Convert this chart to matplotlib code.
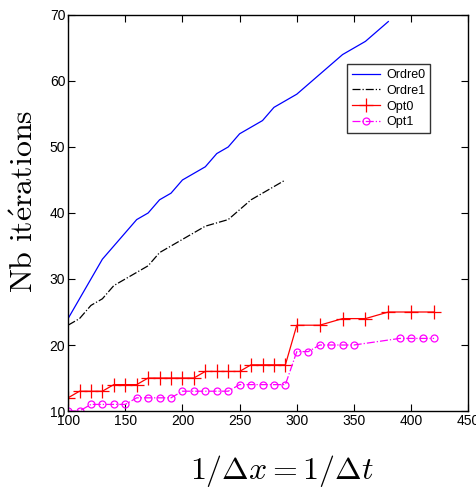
import matplotlib
matplotlib.use('Agg')
import matplotlib.pyplot as plt

#-------------------------------------------- Data --------------------------------------------#

x_ordre0 = [100, 110, 120, 130, 140, 150, 160, 170, 180, 190, 200, 210, 220, 230, 240, 250,
            260, 270, 280, 290, 300, 320, 340, 360, 380]
y_ordre0 = [24, 27, 30, 33, 35, 37, 39, 40, 42, 43, 45, 46, 47, 49, 50, 52,
            53, 54, 56, 57, 58, 61, 64, 66, 69]

x_ordre1 = [100, 110, 120, 130, 140, 150, 160, 170, 180, 190, 200, 210, 220, 230, 240, 250,
            260, 270, 280, 290]
y_ordre1 = [23, 24, 26, 27, 29, 30, 31, 32, 34, 35, 36, 37, 38, 38.5, 39, 40.5,
            42, 43, 44, 45]

x_opt0 = [100, 110, 120, 130, 140, 150, 160, 170, 180, 190, 200, 210, 220, 230, 240, 250,
          260, 270, 280, 290, 300, 320, 340, 360, 380, 400, 420]
y_opt0 = [12, 13, 13, 13, 14, 14, 14, 15, 15, 15, 15, 15, 16, 16, 16, 16,
          17, 17, 17, 17, 23, 23, 24, 24, 25, 25, 25]

x_opt1 = [100, 110, 120, 130, 140, 150, 160, 170, 180, 190, 200, 210, 220, 230, 240, 250,
          260, 270, 280, 290, 300, 310, 320, 330, 340, 350, 390, 400, 410, 420]
y_opt1 = [10, 10, 11, 11, 11, 11, 12, 12, 12, 12, 13, 13, 13, 13, 13, 14,
          14, 14, 14, 14, 19, 19, 20, 20, 20, 20, 21, 21, 21, 21]

labels = ['Ordre0', 'Ordre1', 'Opt0', 'Opt1']

#-------------------------------------------- Plot --------------------------------------------#

plt.rcParams['font.family'] = ['Liberation Sans', 'DejaVu Sans']
plt.rcParams['mathtext.fontset'] = 'cm'

fig = plt.figure(figsize=(4.76, 4.92), dpi=100)
ax = fig.add_axes([0.143, 0.1646, 0.841, 0.805])

ax.plot(x_ordre0, y_ordre0, color='blue', lw=0.9, label=labels[0])
ax.plot(x_ordre1, y_ordre1, color='black', lw=0.9, ls='-.', label=labels[1])
ax.plot(x_opt0, y_opt0, color='red', lw=0.9, marker='+', ms=10, mew=0.9, label=labels[2])
ax.plot(x_opt1, y_opt1, color='magenta', lw=0.9, ls='-.', marker='o', ms=5, mew=0.9,
        mfc='none', label=labels[3])

ax.set_xlim(100, 450)
ax.set_ylim(10, 70)
ax.set_xticks(range(100, 451, 50))
ax.set_yticks(range(10, 71, 10))
ax.tick_params(direction='in', top=True, right=True, length=5, labelsize=10, pad=2)
for s in ax.spines.values():
    s.set_linewidth(1.0)

fig.text(0.592, 0.042, r'$1/\Delta x = 1/\Delta t$', fontsize=23, ha='center', va='center')
fig.text(0.052, 0.59, r'$\mathrm{Nb\ it\acute{e}rations}$', fontsize=23, rotation=90,
         ha='center', va='center')

leg = ax.legend(loc='upper left', bbox_to_anchor=(0.6975, 0.876), fontsize=9,
                frameon=True, fancybox=False, edgecolor='black', borderaxespad=0,
                handlelength=2.2, labelspacing=0.3, borderpad=0.4, handletextpad=0.5)
leg.get_frame().set_linewidth(1.0)

fig.savefig('out.png', dpi=100)
